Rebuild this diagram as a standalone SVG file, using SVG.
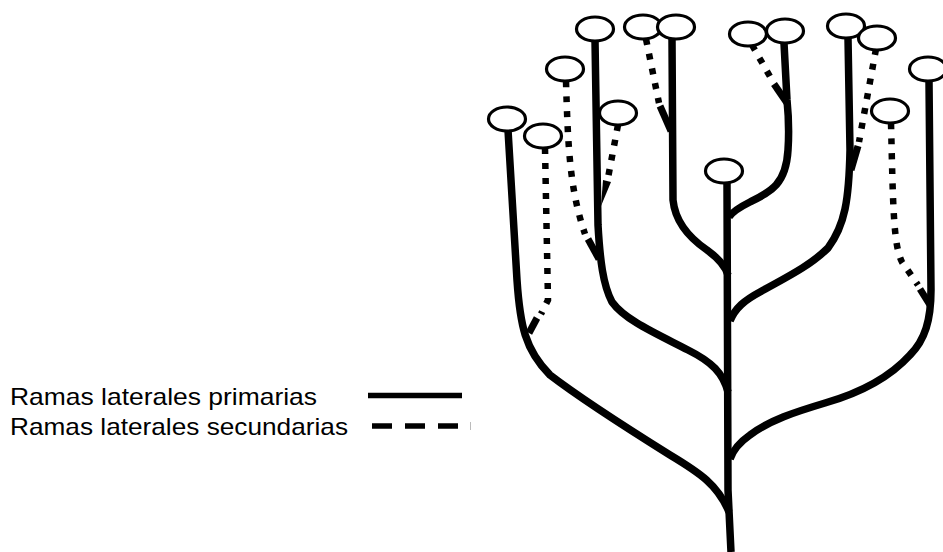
<svg xmlns="http://www.w3.org/2000/svg" width="943" height="552" viewBox="0 0 943 552">
<style>
.pri{fill:none;stroke:#000;stroke-width:7.5;stroke-linecap:butt;stroke-linejoin:round}
.sec{fill:none;stroke:#000;stroke-width:6.5;stroke-dasharray:6 9;stroke-linecap:butt}
.wedge{fill:none;stroke:#000;stroke-width:7;stroke-linecap:butt}
.bud{fill:#fff;stroke:#000;stroke-width:3.2}
.lbl{font-family:"Liberation Sans",Arial,sans-serif;font-size:24px;fill:#000}
</style>
<rect width="943" height="552" fill="#fff"/>
<g id="connectors">
<path class="pri" d="M727,182 L728,490 L731,552"/>
<path class="pri" d="M508,130 L517,280 C520,325 525,350 550,375 C580,398 630,430 670,455 C700,473 718,485 729,512"/>
<path class="pri" d="M595,40 L598,225 C600,260 603,285 612,302 C625,320 655,333 688,350 C712,362 723,373 728,392"/>
<path class="pri" d="M672,39 L673,200 C675,220 688,237 707,250 C718,258 725,265 728,275"/>
<path class="pri" d="M784,43 L787,100 C789,120 789,135 788,150 C786,185 770,192 750,202 C740,207 733,211 729,217"/>
<path class="pri" d="M848,38 L850,150 C849,200 845,225 828,248 C810,266 785,278 760,292 C745,300 735,308 730,321"/>
<path class="pri" d="M929,81 L931,290 C931,320 925,340 910,355 C890,377 860,393 825,403 C795,412 770,420 750,435 C740,442 733,450 730,459"/>
<path class="sec" d="M545,148 L548,300 L541,314"/>
<line class="wedge" x1="537" y1="318" x2="529" y2="333"/>
<path class="sec" d="M566,81 C568,150 570,190 585,234"/>
<line class="wedge" x1="588" y1="239" x2="599" y2="259"/>
<path class="sec" d="M618,125 L608,178"/>
<polygon points="603,180 611,182 601,206" fill="#000"/>
<path class="sec" d="M646,39 L659,103"/>
<line class="wedge" x1="660" y1="106" x2="671" y2="131"/>
<path class="sec" d="M752,45 L772,80"/>
<line class="wedge" x1="774" y1="84" x2="787" y2="103"/>
<path class="sec" d="M876,49 L859,142"/>
<line class="wedge" x1="858" y1="146" x2="851" y2="170"/>
<path class="sec" d="M891,123 C893,200 893,245 902,262 L918,285"/>
<line class="wedge" x1="920" y1="289" x2="930" y2="305"/>
</g>
<g id="bud-a"><ellipse class="bud" cx="507" cy="119" rx="18.5" ry="12"/></g>
<g id="bud-b"><ellipse class="bud" cx="543" cy="136" rx="18.5" ry="12"/></g>
<g id="bud-c"><ellipse class="bud" cx="565" cy="69" rx="18.5" ry="12"/></g>
<g id="bud-d"><ellipse class="bud" cx="595" cy="29" rx="18.5" ry="12"/></g>
<g id="bud-e"><ellipse class="bud" cx="618" cy="113" rx="18.5" ry="12"/></g>
<g id="bud-f"><ellipse class="bud" cx="643" cy="27" rx="18.5" ry="12"/></g>
<g id="bud-g"><ellipse class="bud" cx="676" cy="27" rx="18.5" ry="12"/></g>
<g id="bud-center"><ellipse class="bud" cx="724" cy="171" rx="18.5" ry="12"/></g>
<g id="bud-h"><ellipse class="bud" cx="748" cy="34" rx="18.5" ry="12"/></g>
<g id="bud-i"><ellipse class="bud" cx="785" cy="31" rx="18.5" ry="12"/></g>
<g id="bud-j"><ellipse class="bud" cx="846" cy="26" rx="18.5" ry="12"/></g>
<g id="bud-k"><ellipse class="bud" cx="877" cy="38" rx="18.5" ry="12"/></g>
<g id="bud-l"><ellipse class="bud" cx="890" cy="111" rx="18.5" ry="12"/></g>
<g id="bud-m"><ellipse class="bud" cx="928" cy="69" rx="18.5" ry="12"/></g>
<g id="legend">
<text class="lbl" x="10" y="405" textLength="307" lengthAdjust="spacingAndGlyphs">Ramas laterales primarias</text>
<text class="lbl" x="10" y="435" textLength="338" lengthAdjust="spacingAndGlyphs">Ramas laterales secundarias</text>
<line x1="368" y1="395.5" x2="462" y2="395.5" stroke="#000" stroke-width="5.5"/>
<line x1="372" y1="426" x2="460" y2="426" stroke="#000" stroke-width="5.5" stroke-dasharray="20 13"/>
<line x1="470.5" y1="422" x2="470.5" y2="430" stroke="#bbb" stroke-width="1"/>
</g>
</svg>
